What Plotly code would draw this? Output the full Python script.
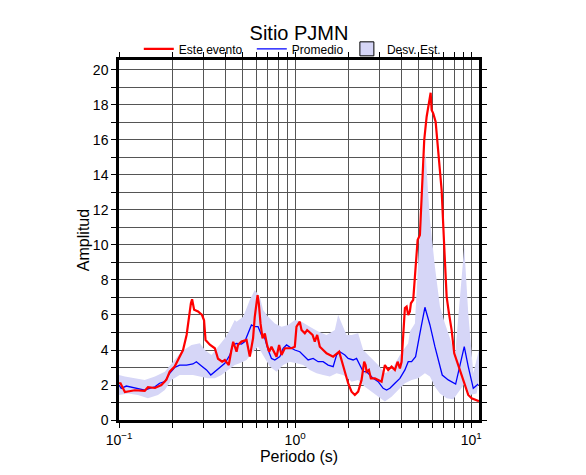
import plotly.graph_objects as go

# Este evento (red)
red_T = [0.1, 0.102, 0.108, 0.123, 0.140, 0.146, 0.160, 0.174, 0.186, 0.194, 0.207, 0.221, 0.231, 0.242,
         0.249, 0.256, 0.260, 0.267, 0.281, 0.296, 0.304, 0.310, 0.328, 0.350, 0.365, 0.385, 0.399, 0.420,
         0.435, 0.445, 0.465, 0.474, 0.496, 0.530, 0.553, 0.577, 0.590, 0.612, 0.622, 0.636, 0.653, 0.673,
         0.693, 0.712, 0.734, 0.784, 0.811, 0.837, 0.874, 0.954, 0.996, 1.018, 1.063, 1.087, 1.135, 1.170,
         1.256, 1.293, 1.334, 1.381, 1.508, 1.644, 1.778, 1.835, 1.916, 2.000, 2.091, 2.183, 2.280, 2.384,
         2.466, 2.512, 2.545, 2.623, 2.692, 2.837, 2.962, 3.097, 3.233, 3.376, 3.529, 3.686, 3.818, 3.935,
         4.023, 4.108, 4.201, 4.295, 4.386, 4.484, 4.544, 4.682, 4.787, 4.960, 5.111, 5.226, 5.408, 5.581,
         5.751, 5.881, 5.957, 6.083, 6.277, 6.494, 6.789, 7.025, 7.249, 7.470, 7.738, 8.006, 8.369, 8.821,
         9.210, 9.616, 10.05, 10.73, 11.06]
red_A = [2.1, 2.1, 1.6, 1.7, 1.67, 1.87, 1.83, 2.0, 2.3, 2.76, 3.05, 3.6, 4.0, 4.86,
         5.9, 6.67, 6.9, 6.3, 6.2, 6.0, 5.7, 4.57, 4.3, 4.1, 3.5, 3.33, 3.43, 3.14,
         4.0, 4.47, 3.9, 4.29, 4.48, 4.57, 3.62, 4.67, 5.9, 7.14, 6.67, 5.52, 4.67, 4.95,
         4.29, 3.9, 4.19, 3.62, 4.29, 3.71, 4.1, 4.1, 4.19, 5.33, 5.62, 5.14, 4.95, 5.14,
         4.86, 4.48, 4.86, 4.19, 3.81, 3.62, 3.9, 3.43, 2.76, 2.1, 1.62, 1.43, 1.62, 2.29,
         3.33, 3.14, 2.76, 2.86, 2.38, 2.38, 2.29, 2.19, 3.14, 2.86, 3.05, 2.86, 3.33, 2.95,
         3.33, 4.95, 6.4, 6.48, 6.0, 6.2, 6.67, 6.86, 8.0, 10.29, 10.57, 12.76, 16.0, 17.33,
         18.29, 18.7, 17.71, 17.52, 17.05, 15.43, 13.14, 9.9, 7.05, 6.1, 5.14, 3.81, 3.24, 2.48,
         1.9, 1.43, 1.24, 1.14, 1.08]

# Promedio (blue)
blue_T = [0.1, 0.103, 0.110, 0.118, 0.128, 0.140, 0.149, 0.160, 0.170, 0.182, 0.194, 0.207, 0.221, 0.242,
          0.263, 0.275, 0.294, 0.314, 0.332, 0.350, 0.373, 0.399, 0.426, 0.444, 0.465, 0.496, 0.518, 0.541,
          0.565, 0.590, 0.616, 0.644, 0.673, 0.703, 0.734, 0.767, 0.819, 0.855, 0.894, 0.954, 0.996, 1.063,
          1.110, 1.185, 1.266, 1.351, 1.442, 1.540, 1.644, 1.719, 1.795, 1.916, 2.000, 2.135, 2.232, 2.331,
          2.434, 2.545, 2.657, 2.775, 2.962, 3.162, 3.306, 3.452, 3.686, 3.935, 4.201, 4.386, 4.585, 4.831,
          5.111, 5.457, 5.827, 6.220, 6.843, 7.402, 8.154, 8.626, 9.126, 9.616, 10.27, 10.96]
blue_A = [2.0, 1.81, 1.94, 1.87, 1.81, 1.71, 1.81, 1.9, 2.1, 2.19, 2.67, 3.0, 3.14, 3.14,
          3.2, 3.33, 3.09, 2.86, 2.57, 2.76, 2.95, 3.24, 3.71, 4.29, 4.38, 4.34, 4.48, 4.95,
          5.43, 5.33, 5.33, 4.86, 4.67, 4.0, 3.52, 3.43, 3.62, 4.1, 4.29, 4.1, 4.0, 3.9,
          3.71, 3.43, 3.52, 3.33, 3.33, 3.14, 3.05, 3.71, 3.9, 3.71, 3.52, 3.43, 3.52, 3.14,
          2.76, 2.76, 2.57, 2.38, 2.19, 1.81, 1.71, 1.81, 2.1, 2.38, 2.86, 3.33, 3.33, 3.62,
          4.95, 6.44, 5.43, 4.19, 2.57, 2.29, 2.05, 3.14, 4.19, 3.05, 1.81, 2.05]

# Desv. Est. band: upper and lower edges
up_T = [0.1, 0.108, 0.123, 0.140, 0.160, 0.182, 0.203, 0.226, 0.258, 0.288, 0.307, 0.335, 0.365, 0.399,
        0.426, 0.454, 0.465, 0.507, 0.553, 0.590, 0.630, 0.658, 0.703, 0.767, 0.837, 0.913, 0.996, 1.087,
        1.212, 1.351, 1.508, 1.681, 1.755, 1.835, 1.959, 2.091, 2.280, 2.434, 2.657, 2.962, 3.233, 3.529,
        3.935, 4.386, 4.484, 4.787, 5.111, 5.337, 5.508, 5.827, 6.220, 6.641, 7.090, 7.738, 8.079, 8.626,
        9.126, 9.616, 10.27, 11.06]
up_A = [2.57, 2.48, 2.38, 2.29, 2.48, 2.76, 3.33, 3.9, 4.29, 4.38, 4.0, 3.71, 4.19, 4.67,
        5.14, 5.71, 5.62, 5.9, 6.86, 7.43, 7.05, 6.29, 5.9, 5.52, 5.33, 5.43, 5.71, 5.62,
        5.33, 5.05, 4.86, 5.14, 6.0, 5.52, 4.86, 4.86, 4.95, 4.0, 3.62, 3.14, 2.67, 2.86,
        3.71, 4.38, 5.05, 5.52, 10.86, 14.1, 15.2, 11.43, 8.76, 6.48, 5.52, 4.38, 3.62, 7.05,
        9.9, 6.1, 2.67, 4.0]
lo_T = [0.1, 0.1125, 0.128, 0.146, 0.1665, 0.182, 0.1985, 0.221, 0.263, 0.2875, 0.320, 0.350, 0.382, 0.416,
        0.454, 0.485, 0.530, 0.577, 0.616, 0.658, 0.718, 0.784, 0.855, 0.933, 1.018, 1.110, 1.212, 1.323,
        1.442, 1.575, 1.719, 1.874, 2.045, 2.091, 2.280, 2.489, 2.717, 2.962, 3.233, 3.529, 3.848, 4.201,
        4.585, 4.999, 5.457, 5.827, 6.220, 6.641, 7.249, 7.902, 8.626, 9.210, 9.831, 10.73, 11.06]
lo_A = [1.43, 1.52, 1.43, 1.24, 1.43, 1.71, 2.29, 2.57, 2.57, 2.48, 2.38, 2.38, 2.57, 2.86,
        3.14, 3.24, 3.43, 3.9, 4.19, 3.71, 3.05, 2.76, 3.14, 3.33, 3.24, 3.14, 2.86, 2.67,
        2.57, 2.48, 2.67, 2.57, 2.29, 2.19, 2.29, 1.9, 1.62, 1.33, 1.05, 1.33, 1.71, 2.1,
        2.29, 2.38, 2.67, 2.48, 1.9, 1.52, 1.24, 1.18, 1.71, 2.1, 1.43, 1.52, 2.29]

title = "Sitio PJMN"
x_ticks = [0.1, 1, 10]
x_ticktext = ["10<sup>−1</sup>", "10<sup>0</sup>", "10<sup>1</sup>"]
x_minor = [0.2, 0.3, 0.4, 0.5, 0.6, 0.7, 0.8, 0.9, 2, 3, 4, 5, 6, 7, 8, 9]

BAND = "#d6d6f7"
FONT = "Liberation Sans, Arial, sans-serif"

fig = go.Figure()
fig.add_trace(go.Scatter(x=up_T + lo_T[::-1], y=up_A + lo_A[::-1], fill="toself",
                         fillcolor=BAND, line=dict(width=0), mode="lines",
                         showlegend=False, hoverinfo="skip"))
# legend entry for band (box with outline), in its own legend
fig.add_trace(go.Scatter(x=[None], y=[None], mode="markers",
                         marker=dict(symbol="square", size=14, color=BAND,
                                     line=dict(color="black", width=1)),
                         name="Desv. Est.", legend="legend2"))
fig.add_trace(go.Scatter(x=blue_T, y=blue_A, mode="lines", line=dict(color="#0000ff", width=1.3),
                         name="Promedio", legendrank=2))
fig.add_trace(go.Scatter(x=red_T, y=red_A, mode="lines", line=dict(color="#ff0000", width=2.2),
                         name="Este evento", legendrank=1))

# page body has an 8px margin: figure is 8px smaller and margins shifted accordingly
fig.update_layout(
    width=578, height=467,
    margin=dict(l=111, r=107, t=52, b=55, autoexpand=False),
    paper_bgcolor="white", plot_bgcolor="white",
    font=dict(family=FONT, color="black", size=13),
    title=dict(text=title, x=0.5, xref="paper", xanchor="center", y=1 - 25 / 467, yanchor="middle",
               yref="container", font=dict(size=20), automargin=False),
    legend=dict(orientation="h", x=0.055, xanchor="left", y=1.031, yanchor="middle",
                font=dict(size=12), bgcolor="rgba(0,0,0,0)", itemwidth=30,
                entrywidth=68, entrywidthmode="pixels"),
    legend2=dict(orientation="h", x=0.633, xanchor="left", y=1.031, yanchor="middle",
                 font=dict(size=12), bgcolor="rgba(0,0,0,0)", itemwidth=30),
    showlegend=True,
)

fig.update_xaxes(type="log", range=[-1, 1.044], tickvals=x_ticks, ticktext=x_ticktext,
                 ticks="outside", ticklen=5, tickcolor="black", tickwidth=1,
                 showline=True, linewidth=2.5, linecolor="black", mirror="allticks",
                 showgrid=True, gridcolor="#555555", gridwidth=1, automargin=False,
                 minor=dict(tickvals=x_minor, showgrid=True, gridcolor="#555555", gridwidth=1,
                            ticks="outside", ticklen=5, tickcolor="black"),
                 zeroline=False, tickfont=dict(size=14),
                 title=dict(text="Periodo (s)", font=dict(size=16), standoff=3))
fig.update_yaxes(range=[0, 20.57], dtick=2, tick0=0,
                 ticks="outside", ticklen=5, tickcolor="black", tickwidth=1,
                 showline=True, linewidth=2.5, linecolor="black", mirror="allticks",
                 showgrid=True, gridcolor="#555555", gridwidth=1, automargin=False,
                 minor=dict(dtick=1, showgrid=True, gridcolor="#555555", gridwidth=1,
                            ticks="outside", ticklen=5, tickcolor="black"),
                 zeroline=False, tickfont=dict(size=14),
                 title=dict(text="Amplitud", font=dict(size=16), standoff=0))

fig.write_html("out.html")
